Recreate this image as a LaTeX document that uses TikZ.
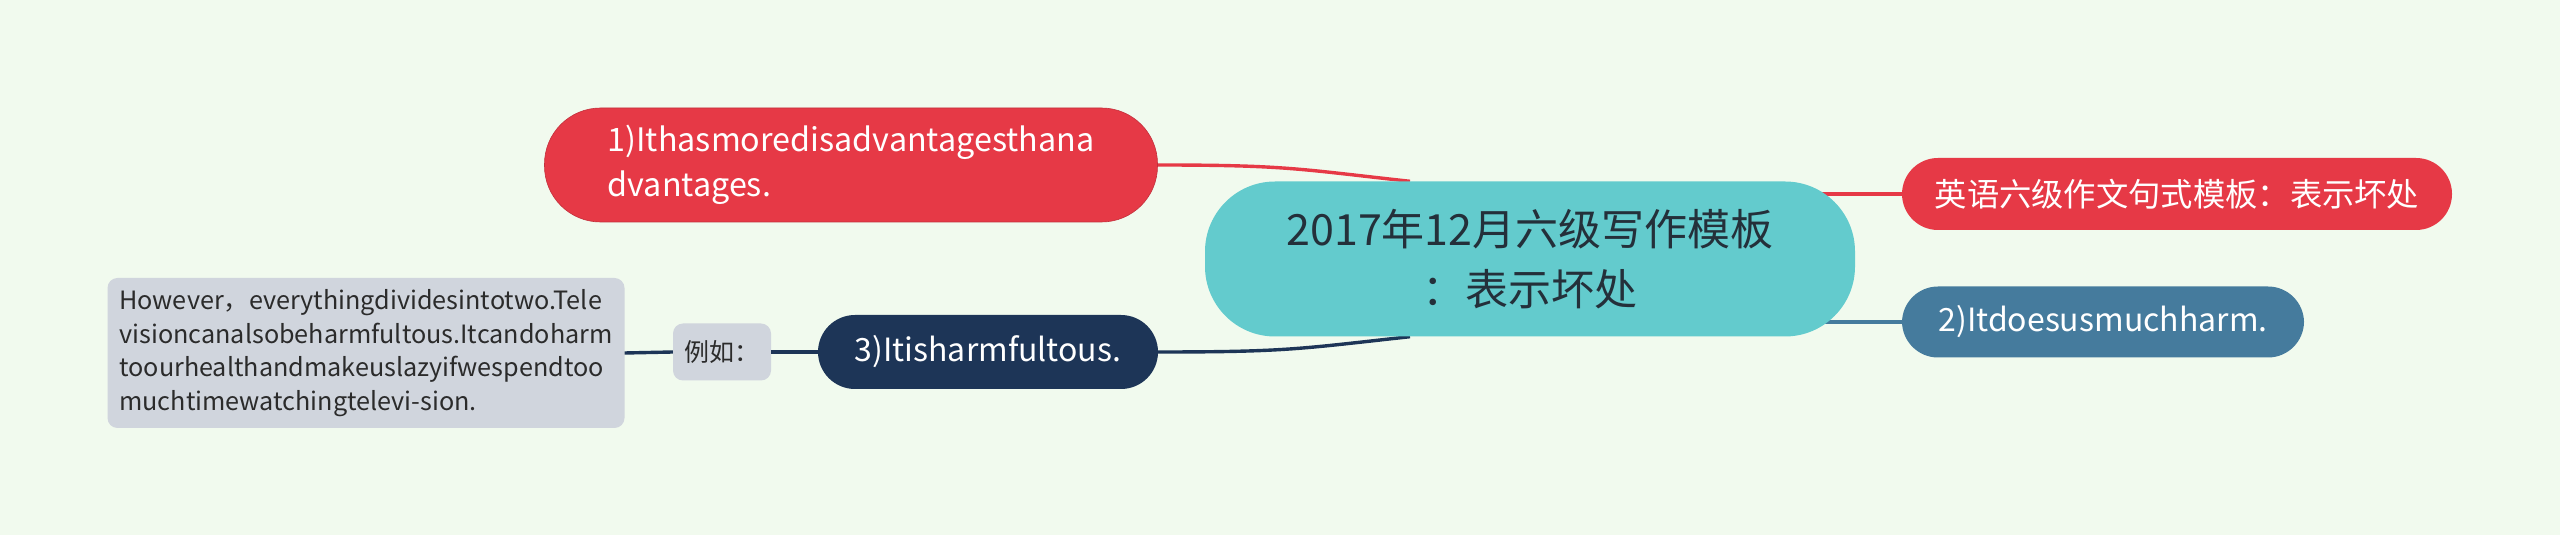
\documentclass[tikz,border=0pt]{standalone}
\usepackage{fontspec}
\setmainfont{Noto Sans CJK SC}
\usetikzlibrary{backgrounds}
\definecolor{bgc}{HTML}{F1FAEE}
\definecolor{rootc}{HTML}{63CBCD}
\definecolor{roott}{HTML}{24303A}
\definecolor{redc}{HTML}{E63946}
\definecolor{bluec}{HTML}{457B9D}
\definecolor{navyc}{HTML}{1D3557}
\definecolor{grayc}{HTML}{D0D5DD}
\definecolor{grayt}{HTML}{2B2B2B}
\begin{document}
\begin{tikzpicture}[x=1pt,y=1pt,
  pill/.style={rounded corners=#1,inner sep=0pt,text=white},
  link/.style={line width=3.4pt}]
\useasboundingbox (0,0) rectangle (2560,535);
\node[pill=70pt,fill=rootc,text=roott,minimum width=650pt,minimum height=155pt,align=center,font=\fontsize{43}{60}\selectfont] (root) at (1530,276) {2017年12月六级写作模板\\：表示坏处};
\node[pill=56pt,fill=redc,draw=redc!85!black,line width=0.6pt,minimum width=613pt,minimum height=114pt,align=left,font=\fontsize{32.3}{45}\selectfont] (n1) at (851,370) {1)Ithasmoredisadvantagesthana\\dvantages.};
\node[pill=36pt,fill=redc,minimum width=550pt,minimum height=72pt,font=\fontsize{32.3}{40}\selectfont] (r1) at (2177,341) {英语六级作文句式模板：表示坏处};
\node[pill=36pt,fill=bluec,minimum width=402pt,minimum height=71pt,font=\fontsize{32}{40}\selectfont] (n2) at (2103,213) {2)Itdoesusmuchharm.};
\node[pill=37pt,fill=navyc,minimum width=340pt,minimum height=74pt,font=\fontsize{32}{40}\selectfont] (n3) at (988,183) {3)Itisharmfultous.};
\node[pill=10pt,fill=grayc,text=grayt,minimum width=98pt,minimum height=57pt,font=\fontsize{25}{30}\selectfont] (eg) at (722,183) {例如：};
\node[pill=10pt,fill=grayc,text=grayt,minimum width=517pt,minimum height=150pt,align=left,font=\fontsize{25.2}{33.5}\selectfont] (ex) at (366,182) {However，everythingdividesintotwo.Tele\\visioncanalsobeharmfultous.Itcandoharm\\toourhealthandmakeuslazyifwespendtoo\\muchtimewatchingtelevi-sion.};
\begin{scope}[on background layer]
\fill[bgc] (0,0) rectangle (2560,535);
\draw[link,redc] (n1.east) .. controls +(130,0) and +(-110,12) .. ([xshift=-120pt]root.north);
\draw[link,navyc] (n3.east) .. controls +(130,0) and +(-110,-12) .. ([xshift=-120pt]root.south);
\draw[link,redc] (root.center |- r1.west) -- (r1.west);
\draw[link,bluec] (root.center |- n2.west) -- (n2.west);
\end{scope}
\draw[link,navyc] (ex.east) -- (eg.west);
\draw[link,navyc] (eg.east) -- (n3.west);
\end{tikzpicture}
\end{document}
